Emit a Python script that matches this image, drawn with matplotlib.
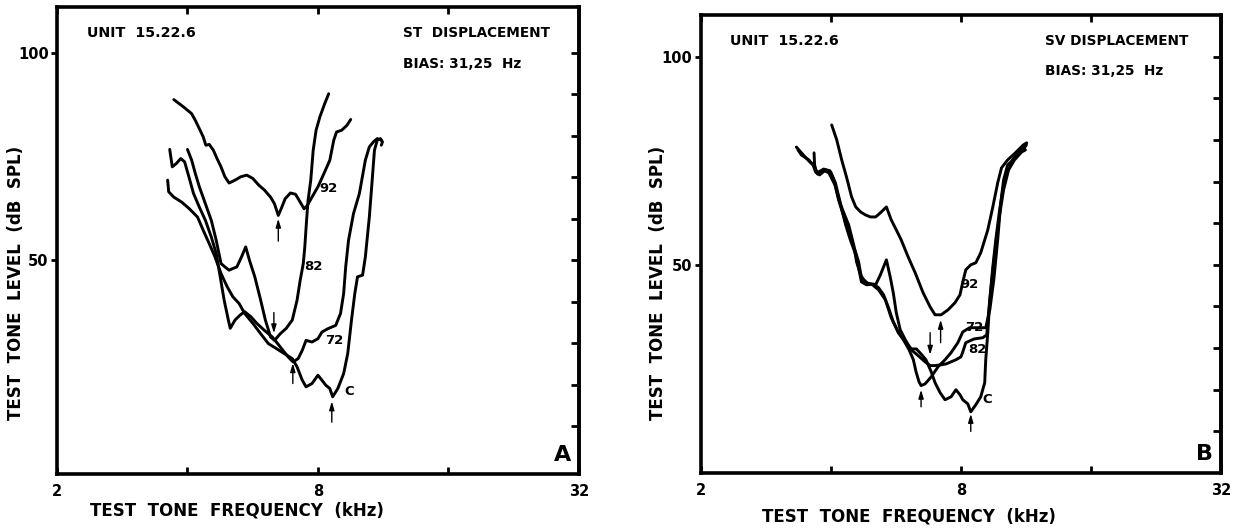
import matplotlib
matplotlib.use("Agg")
import matplotlib.pyplot as plt

# ---- panel A : ST displacement (kHz, dB SPL) ----
A92_F = [3.72, 3.92, 4.09, 4.17, 4.26, 4.35, 4.41, 4.49, 4.59, 4.68, 4.78, 4.88, 4.99, 5.15,
         5.31, 5.48, 5.66, 5.84, 6.02, 6.22, 6.35, 6.48, 6.58, 6.72, 6.91, 7.10, 7.28, 7.43,
         7.56, 7.75, 8.00, 8.26, 8.52, 8.70, 8.83, 9.07, 9.33, 9.52]
A92_DB = [88.7, 86.9, 85.3, 83.7, 81.7, 79.7, 77.7, 77.9, 76.5, 74.5, 72.5, 70.1, 68.6, 69.3,
          70.1, 70.5, 69.7, 68.1, 66.9, 65.2, 63.6, 60.8, 62.4, 64.8, 66.2, 65.9, 64.0, 62.4,
          63.2, 65.2, 67.7, 70.9, 74.1, 78.9, 80.9, 81.3, 82.5, 83.9]

A82_F = [4.00, 4.09, 4.17, 4.26, 4.40, 4.54, 4.66, 4.78, 4.88, 4.99, 5.09, 5.20, 5.33, 5.45,
         5.56, 5.72, 5.90, 6.05, 6.22, 6.35, 6.55, 6.76, 6.98, 7.16, 7.28, 7.40, 7.46, 7.53,
         7.59, 7.70, 7.80, 7.92, 8.08, 8.29, 8.47]
A82_DB = [76.7, 74.1, 70.9, 67.7, 63.6, 59.6, 54.8, 49.2, 48.4, 47.6, 48.0, 48.4, 50.8, 53.2,
          50.0, 46.0, 40.4, 35.6, 31.5, 30.7, 32.3, 33.6, 35.6, 40.4, 45.2, 49.2, 53.2, 59.6,
          64.4, 69.3, 76.5, 81.3, 84.5, 87.7, 90.1]

A72_F = [3.64, 3.69, 3.77, 3.86, 3.94, 4.03, 4.13, 4.26, 4.40, 4.54, 4.66, 4.76, 4.86, 4.97,
         5.02, 5.15, 5.29, 5.42, 5.60, 5.78, 6.02, 6.28, 6.55, 6.83, 7.01, 7.20, 7.36, 7.51,
         7.75, 8.00, 8.17, 8.43, 8.79, 9.02, 9.17, 9.27, 9.41, 9.66, 9.97, 10.29, 10.51,
         10.74, 10.96, 11.20]
A72_DB = [76.7, 72.5, 73.3, 74.5, 73.7, 70.1, 66.1, 62.8, 59.6, 55.6, 51.6, 46.0, 40.4, 35.6,
          33.6, 35.6, 36.8, 37.6, 36.4, 34.8, 33.1, 31.5, 29.1, 26.7, 25.5, 26.3, 28.3, 30.7,
          30.3, 31.1, 32.7, 33.5, 34.3, 37.2, 42.0, 48.4, 54.8, 61.2, 66.1, 74.1, 77.3,
          78.5, 79.3, 78.9]

AC_F = [3.60, 3.62, 3.72, 3.88, 4.04, 4.22, 4.35, 4.49, 4.63, 4.78, 4.94, 5.09, 5.26, 5.42,
        5.66, 5.90, 6.15, 6.42, 6.69, 6.98, 7.16, 7.36, 7.51, 7.75, 8.00, 8.17, 8.34, 8.52,
        8.65, 8.89, 9.17, 9.37, 9.56, 9.73, 9.87, 10.14, 10.29, 10.51, 10.67, 10.80, 10.96,
        11.15, 11.27, 11.20]
AC_DB = [69.3, 66.5, 65.2, 64.0, 62.4, 60.4, 57.2, 54.0, 50.8, 46.8, 43.6, 41.2, 39.6, 37.2,
         34.8, 32.3, 29.9, 28.7, 27.5, 26.3, 24.3, 21.1, 19.5, 20.3, 22.3, 21.1, 19.9, 19.1,
         17.1, 19.1, 22.7, 27.5, 35.6, 42.0, 46.0, 46.4, 50.8, 60.4, 69.3, 76.5, 78.9,
         79.3, 78.5, 77.7]

# ---- panel B : SV displacement ----
B92_F = [4.02, 4.13, 4.24, 4.35, 4.47, 4.57, 4.69, 4.81, 4.94, 5.08, 5.21, 5.38, 5.52, 5.67,
         5.82, 6.04, 6.27, 6.54, 6.79, 6.97, 7.20, 7.47, 7.75, 7.96, 8.08, 8.21, 8.43, 8.66,
         8.89, 9.23, 9.48, 9.73, 9.93, 10.26, 10.69, 11.15, 11.36]
B92_DB = [83.6, 80.0, 75.2, 71.1, 66.3, 63.9, 62.7, 62.0, 61.5, 61.5, 62.5, 63.9, 60.8, 58.4,
          56.0, 51.9, 48.1, 43.3, 39.9, 38.0, 38.0, 39.2, 40.9, 42.8, 45.9, 48.8, 50.0, 50.5,
          52.9, 58.4, 63.9, 69.7, 73.3, 75.2, 76.9, 78.8, 79.3]

B82_F = [3.66, 3.67, 3.71, 3.83, 3.96, 4.09, 4.17, 4.31, 4.42, 4.55, 4.64, 4.71, 4.89, 5.08,
         5.21, 5.38, 5.49, 5.58, 5.67, 5.79, 5.95, 6.14, 6.37, 6.61, 6.79, 6.97, 7.20, 7.39,
         7.59, 7.79, 8.00, 8.08, 8.21, 8.58, 8.99, 9.18, 9.28, 9.43, 9.63, 9.83, 10.04,
         10.31, 10.64, 11.05, 11.28]
B82_DB = [76.9, 74.0, 72.1, 72.8, 72.1, 69.2, 65.6, 60.8, 57.2, 53.6, 50.7, 46.9, 45.4, 45.2,
          47.6, 51.2, 47.1, 43.3, 38.5, 34.4, 32.0, 29.6, 28.2, 26.7, 25.8, 25.8, 26.0, 26.2,
          26.7, 27.2, 27.9, 29.1, 31.3, 32.2, 32.5, 33.2, 39.2, 46.4, 54.8, 62.0, 68.0,
          72.8, 75.2, 77.1, 77.6]

B72_F = [3.33, 3.47, 3.58, 3.66, 3.73, 3.85, 3.98, 4.08, 4.20, 4.28, 4.40, 4.52, 4.59, 4.69,
         4.81, 4.97, 5.16, 5.35, 5.52, 5.73, 5.89, 6.07, 6.21, 6.30, 6.40, 6.47, 6.61, 6.83,
         7.08, 7.35, 7.59, 7.87, 8.08, 8.38, 8.75, 9.13, 9.33, 9.53, 9.73, 9.88, 10.04,
         10.26, 10.70, 11.11, 11.34]
B72_DB = [78.3, 76.2, 74.7, 73.8, 71.8, 73.0, 72.6, 69.9, 64.9, 62.7, 59.6, 54.8, 50.7, 47.6,
          45.7, 45.4, 44.0, 41.6, 37.3, 33.9, 32.0, 29.6, 27.2, 24.3, 21.9, 21.0, 21.4, 23.1,
          25.5, 27.2, 28.9, 31.3, 33.9, 34.9, 34.9, 34.9, 39.2, 46.4, 56.0, 64.4, 70.4,
          74.0, 75.7, 77.6, 78.8]

BC_F = [3.36, 3.42, 3.56, 3.64, 3.69, 3.77, 3.89, 4.00, 4.10, 4.22, 4.33, 4.44, 4.57, 4.64,
        4.71, 4.84, 5.02, 5.16, 5.30, 5.44, 5.58, 5.73, 5.95, 6.14, 6.31, 6.47, 6.64, 6.83,
        6.97, 7.16, 7.35, 7.59, 7.79, 7.96, 8.08, 8.30, 8.43, 8.66, 8.89, 9.08, 9.13, 9.23,
        9.33, 9.48, 9.63, 9.83, 10.04, 10.26, 10.53, 10.93, 11.23]
BC_DB = [77.6, 76.4, 75.2, 74.0, 72.3, 71.6, 72.8, 72.3, 69.7, 64.4, 59.6, 56.0, 52.4, 49.3,
         45.9, 45.2, 45.4, 44.5, 42.8, 39.7, 36.3, 33.7, 31.5, 29.8, 29.8, 28.6, 27.2, 24.3,
         21.7, 19.3, 17.6, 18.3, 20.0, 18.8, 17.6, 16.6, 14.7, 16.4, 18.3, 21.7, 27.2, 33.7,
         41.6, 49.5, 56.0, 63.2, 69.2, 73.3, 75.2, 77.6, 78.1]

# curve labels: (text, kHz, dB) and best-frequency arrows: (kHz, tail dB, tip dB)
A_LABELS = [("92", 8.04, 67.3), ("82", 7.43, 48.4), ("72", 8.29, 30.7), ("C", 9.20, 18.3)]
A_ARROWS = [(6.48, 54.6, 60.0), (6.33, 37.4, 32.4), (7.00, 20.3, 25.2), (8.61, 11.0, 16.0)]
B_LABELS = [("92", 7.96, 45.2), ("72", 8.17, 34.9), ("82", 8.30, 29.6), ("C", 8.99, 17.6)]
B_ARROWS = [(7.18, 31.3, 36.8), (6.79, 33.7, 28.4), (6.47, 15.9, 20.0), (8.43, 10.0, 14.2)]

XTICKS = [2, 4, 8, 16, 32]
XTICKLABELS = ["2", "", "8", "", "32"]
YTICKS = [50, 100]
YMINOR = [10, 20, 30, 40, 50, 60, 70, 80, 90, 100]

TXT = dict(color="black", fontweight="bold", family="DejaVu Sans")


def draw_panel(ax, curves, labels, arrows, mode, letter, ylim):
    for f, db in curves:
        ax.plot(f, db, color="black", lw=2.1, solid_joinstyle="round",
                solid_capstyle="round")
    for t, f, db in labels:
        ax.text(f, db, t, fontsize=9.5, ha="left", va="center", **TXT)
    for f, tail, tip in arrows:
        ax.annotate("", xy=(f, tip), xytext=(f, tail),
                    arrowprops=dict(arrowstyle="-|>,head_length=0.5,head_width=0.15",
                                    lw=1.0, color="black", shrinkA=0, shrinkB=0))

    ax.set_xscale("log", base=2)
    ax.set_xlim(2, 32)
    ax.set_ylim(*ylim)
    ax.set_xticks(XTICKS)
    ax.set_xticklabels(XTICKLABELS)
    ax.xaxis.set_minor_locator(plt.NullLocator())
    ax.set_yticks(YTICKS)
    ax.set_yticklabels([str(v) for v in YTICKS])
    ax.tick_params(axis="x", which="both", direction="in", top=True, bottom=True,
                   length=5, width=2, pad=7, labelsize=10.5)
    ax.tick_params(axis="y", direction="out", left=True, right=False,
                   length=4, width=2, pad=2, labelsize=10.5)
    for lab in ax.get_xticklabels() + ax.get_yticklabels():
        lab.set_fontweight("bold")

    right = ax.secondary_yaxis("right")
    right.set_yticks(YMINOR)
    right.tick_params(direction="in", length=6, width=2, labelright=False)
    right.spines["right"].set_linewidth(2.6)

    for s in ax.spines.values():
        s.set_linewidth(2.6)

    ax.text(0.057, 0.944, "UNIT  15.22.6", transform=ax.transAxes, fontsize=10.3,
            ha="left", va="center", **TXT)
    ax.text(0.662, 0.944, mode, transform=ax.transAxes, fontsize=9.8,
            ha="left", va="center", **TXT)
    ax.text(0.662, 0.878, "BIAS: 31,25  Hz", transform=ax.transAxes, fontsize=9.8,
            ha="left", va="center", **TXT)
    ax.text(0.985, 0.02, letter, transform=ax.transAxes, fontsize=16,
            ha="right", va="bottom", **TXT)

    ax.set_ylabel("TEST  TONE  LEVEL  (dB  SPL)", fontsize=12, **TXT)
    ax.set_xlabel("TEST  TONE  FREQUENCY  (kHz)", fontsize=12, **TXT)


fig = plt.figure(figsize=(12.36, 5.31), dpi=100)
ax_a = fig.add_axes([0.0461, 0.1073, 0.4223, 0.8795])
ax_b = fig.add_axes([0.5668, 0.1092, 0.4213, 0.8625])

draw_panel(ax_a, [(A92_F, A92_DB), (A82_F, A82_DB), (A72_F, A72_DB), (AC_F, AC_DB)],
           A_LABELS, A_ARROWS, "ST  DISPLACEMENT", "A", (-1.5, 111))
draw_panel(ax_b, [(B92_F, B92_DB), (B82_F, B82_DB), (B72_F, B72_DB), (BC_F, BC_DB)],
           B_LABELS, B_ARROWS, "SV DISPLACEMENT", "B", (0, 110))

ax_a.yaxis.set_label_coords(-0.062, 0.41)
ax_a.xaxis.set_label_coords(0.345, -0.058)
ax_b.yaxis.set_label_coords(-0.064, 0.415)
ax_b.xaxis.set_label_coords(0.40, -0.076)

fig.savefig("out.png", dpi=100)
